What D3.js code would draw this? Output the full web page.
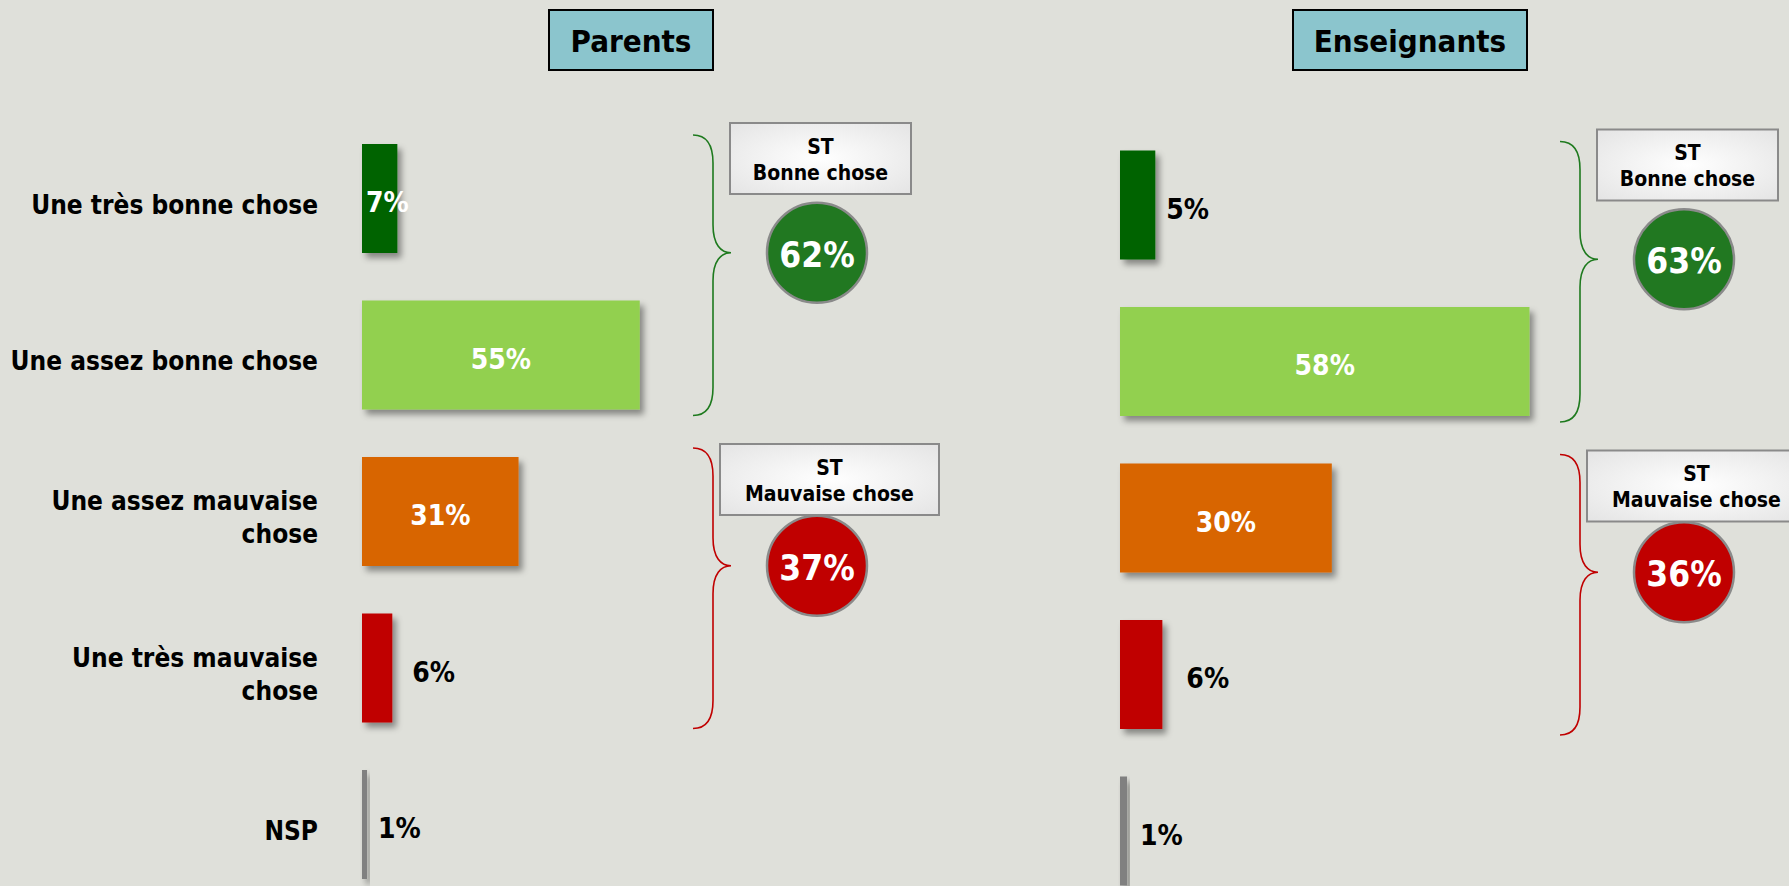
<!DOCTYPE html>
<html>
<head>
<meta charset="utf-8">
<script src="https://cdn.jsdelivr.net/npm/d3@7"></script>
<style>
  html, body { margin: 0; padding: 0; background: #dfe0da; }
  svg { display: block; }
  text { font-family: "DejaVu Sans Condensed", "DejaVu Sans", sans-serif; font-stretch: condensed; font-weight: bold; }
</style>
</head>
<body>
<div id="chart"></div>
<script>
// Data
const categoryLines = [
  ['Une très bonne chose'],
  ['Une assez bonne chose'],
  ['Une assez mauvaise', 'chose'],
  ['Une très mauvaise', 'chose'],
  ['NSP']
];
const categories = categoryLines.map(l => l.join(' '));
const parentsValues = [7, 55, 31, 6, 1];
const teachersValues = [5, 58, 30, 6, 1];
const groupNames = ['Bonne chose', 'Mauvaise chose'];
const groupMembers = [[0, 1], [2, 3]];
const parentsTotals = [62, 37];
const teachersTotals = [63, 36];

const barColours = ['#006400', '#92d050', '#d86504', '#c00000', '#808080'];
const braceColours = ['#1e7a1e', '#c00000'];
const circleColours = ['#217821', '#c00000'];

const width = 1789;
const height = 886;

const svg = d3.select('#chart')
  .append('svg')
  .attr('width', width)
  .attr('height', height);

// Drop shadow for bars.
const defs = svg.append('defs');
defs.append('filter')
  .attr('id', 'shadow')
  .attr('x', '-20%').attr('y', '-20%')
  .attr('width', '160%').attr('height', '160%')
  .append('feDropShadow')
  .attr('dx', 4).attr('dy', 5)
  .attr('stdDeviation', 3)
  .attr('flood-color', '#000')
  .attr('flood-opacity', 0.4);

const grad = defs.append('radialGradient')
  .attr('id', 'boxFill')
  .attr('cx', '50%').attr('cy', '50%').attr('r', '70%');
grad.append('stop').attr('offset', '0%').attr('stop-color', '#ffffff');
grad.append('stop').attr('offset', '100%').attr('stop-color', '#e4e4e4');

const panels = [
  { title: 'Parents', values: parentsValues, totals: parentsTotals,
    x0: 362, pxPerPct: 5.05, yShift: 0, headerX: 631, headerW: 164, braceX: 693,
    labelDx: { 0: -1, 3: 20, 4: 11 } },
  { title: 'Enseignants', values: teachersValues, totals: teachersTotals,
    x0: 1120, pxPerPct: 7.06, yShift: 6.5, headerX: 1410, headerW: 234, braceX: 1560,
    labelDx: { 0: 11, 3: 24, 4: 13 } }
];

// Category labels on the left only.
const yLeft = d3.scaleBand()
  .domain(categories)
  .range([120.25, 902.75])
  .paddingInner(0.3035)
  .paddingOuter(0.15175);

svg.append('g')
  .selectAll('text')
  .data(categoryLines)
  .join('text')
  .attr('text-anchor', 'end')
  .attr('font-size', 26)
  .attr('fill', '#000')
  .each(function (lines, i) {
    const cy = yLeft(categories[i]) + yLeft.bandwidth() / 2 + 6;
    const lh = 33;
    const first = cy - (lines.length - 1) * lh / 2;
    d3.select(this).selectAll('tspan')
      .data(lines)
      .join('tspan')
      .attr('x', 318)
      .attr('y', (d, j) => first + j * lh)
      .attr('dominant-baseline', 'central')
      .text(d => d);
  });

const bracePath = (x, y0, y1, ty) => {
  const m = 20, tip = 38, c = 28;
  return `M${x},${y0} C${x + 14},${y0} ${x + m},${y0 + 10} ${x + m},${y0 + c}` +
    ` L${x + m},${ty - c} C${x + m},${ty - 8} ${x + 28},${ty} ${x + tip},${ty}` +
    ` C${x + 28},${ty} ${x + m},${ty + 8} ${x + m},${ty + c}` +
    ` L${x + m},${y1 - c} C${x + m},${y1 - 10} ${x + 14},${y1} ${x},${y1}`;
};

panels.forEach(p => {
  const g = svg.append('g');

  const x = d3.scaleLinear()
    .domain([0, 100])
    .range([p.x0, p.x0 + 100 * p.pxPerPct]);

  const y = d3.scaleBand()
    .domain(categories)
    .range([120.25 + p.yShift, 902.75 + p.yShift])
    .paddingInner(0.3035)
    .paddingOuter(0.15175);

  // Header.
  const header = g.append('g');
  header.append('rect')
    .attr('x', p.headerX - p.headerW / 2)
    .attr('y', 10)
    .attr('width', p.headerW)
    .attr('height', 60)
    .attr('fill', '#8bc5cd')
    .attr('stroke', '#000')
    .attr('stroke-width', 2);
  header.append('text')
    .attr('x', p.headerX)
    .attr('y', 41)
    .attr('text-anchor', 'middle')
    .attr('dominant-baseline', 'central')
    .attr('font-size', 31)
    .text(p.title);

  // Bars.
  g.append('g')
    .selectAll('rect')
    .data(p.values)
    .join('rect')
    .attr('x', x(0))
    .attr('y', (d, i) => y(categories[i]))
    .attr('width', d => x(d) - x(0))
    .attr('height', y.bandwidth())
    .attr('fill', (d, i) => barColours[i])
    .attr('filter', 'url(#shadow)');

  // Value labels.
  g.append('g')
    .selectAll('text')
    .data(p.values)
    .join('text')
    .attr('font-size', 28)
    .attr('dominant-baseline', 'central')
    .attr('y', (d, i) => y(categories[i]) + y.bandwidth() / 2 + 4)
    .each(function (d, i) {
      const t = d3.select(this);
      if (d >= 20) {
        t.attr('x', (x(0) + x(d)) / 2).attr('text-anchor', 'middle').attr('fill', '#fff');
      } else if (p.labelDx[i] < 0) {
        t.attr('x', x(0) + 4).attr('text-anchor', 'start').attr('fill', '#fff');
      } else {
        t.attr('x', x(d) + p.labelDx[i]).attr('text-anchor', 'start').attr('fill', '#000');
      }
    })
    .text(d => d + '%');

  // Group braces, boxes and totals.
  groupMembers.forEach((members, gi) => {
    const first = categories[members[0]];
    const last = categories[members[members.length - 1]];
    const y0 = y(first) - 9;
    const y1 = y(last) + y.bandwidth() + 6;
    const ty = y0 + (y1 - y0) * 0.42;

    g.append('path')
      .attr('d', bracePath(p.braceX, y0, y1, ty))
      .attr('fill', 'none')
      .attr('stroke', braceColours[gi])
      .attr('stroke-width', 1.6);

    const boxW = gi === 0 ? 181 : 219;
    const boxX = p.braceX + 37 - gi * 10;
    const boxY = y(first) - 21 + gi * 8;
    g.append('rect')
      .attr('x', boxX)
      .attr('y', boxY)
      .attr('width', boxW)
      .attr('height', 71)
      .attr('fill', 'url(#boxFill)')
      .attr('stroke', '#8a8a8a')
      .attr('stroke-width', 2);

    const boxText = g.append('text')
      .attr('text-anchor', 'middle')
      .attr('font-size', 21)
      .attr('fill', '#000');
    ['ST', groupNames[gi]].forEach((line, j) => {
      boxText.append('tspan')
        .attr('x', boxX + boxW / 2)
        .attr('y', boxY + 24 + j * 26)
        .attr('dominant-baseline', 'central')
        .text(line);
    });

    const cx = p.braceX + 124;
    g.append('circle')
      .attr('cx', cx)
      .attr('cy', ty)
      .attr('r', 50)
      .attr('fill', circleColours[gi])
      .attr('stroke', '#8a8a8a')
      .attr('stroke-width', 2.5);
    g.append('text')
      .attr('x', cx)
      .attr('y', ty + 2)
      .attr('text-anchor', 'middle')
      .attr('dominant-baseline', 'central')
      .attr('font-size', 35)
      .attr('fill', '#fff')
      .text(p.totals[gi] + '%');
  });
});
</script>
</body>
</html>
